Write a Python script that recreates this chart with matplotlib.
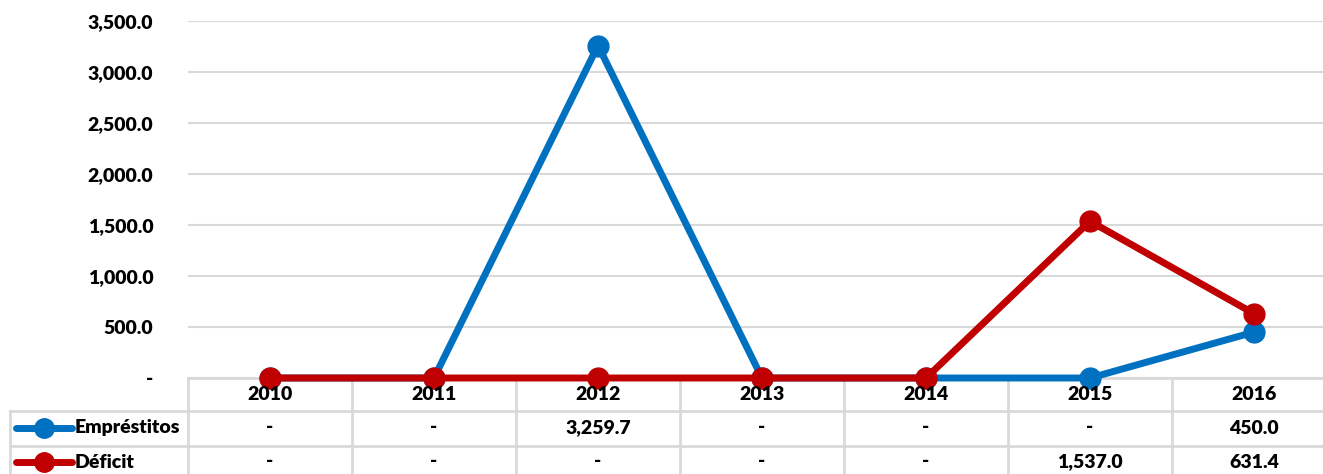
import matplotlib.pyplot as plt
from matplotlib.lines import Line2D
from matplotlib.transforms import blended_transform_factory

years = ["2010", "2011", "2012", "2013", "2014", "2015", "2016"]
emprestitos = [0, 0, 3259.7, 0, 0, 0, 450.0]
deficit = [0, 0, 0, 0, 0, 1537.0, 631.4]
series_names = ["Empréstitos", "Déficit"]
colors = ["#0070C0", "#C00000"]
yticks = [0, 500, 1000, 1500, 2000, 2500, 3000, 3500]

plt.rcParams["font.family"] = ["Lato", "DejaVu Sans"]
WT = "heavy"
FS = 14

W, H = 1323, 474
fig = plt.figure(figsize=(W / 100, H / 100), dpi=100)
# plot area runs a bit past the right edge, like the original crop
ax = fig.add_axes([188 / W, (H - 378) / H, (1336 - 188) / W, (378 - 21) / H])
ax.set_zorder(3)
ax.patch.set_alpha(0)

grid_c = "#D9D9D9"
x = list(range(len(years)))

for vals, c, z in [(emprestitos, colors[0], 3), (deficit, colors[1], 4)]:
    ax.plot(x, vals, color=c, lw=5, marker="o", ms=15, zorder=z,
            clip_on=False, solid_joinstyle="round")

ax.set_xlim(-0.5, len(years) - 0.5)
ax.set_ylim(0, 3500)
ax.set_yticks(yticks)
ax.set_yticklabels(["-" if v == 0 else f"{v:,.1f}" for v in yticks],
                   fontsize=FS, fontweight=WT)
ax.tick_params(axis="y", length=0, pad=25)
ax.set_xticks([])
ax.grid(axis="y", color=grid_c, lw=1.5, zorder=0)
for s in ax.spines.values():
    s.set_visible(False)

# data table under the plot
tr = blended_transform_factory(ax.transData, fig.transFigure)
ftr = fig.transFigure


def fy(py):
    return 1 - py / H


row_lines = [378, 411, 446]
row_mid = [395, 428, 462]

# horizontal lines
fig.add_artist(Line2D([188 / W, 1], [fy(378)] * 2, transform=ftr, color=grid_c, lw=2))
for py in row_lines[1:]:
    fig.add_artist(Line2D([10 / W, 1], [fy(py)] * 2, transform=ftr, color=grid_c, lw=2))
# vertical lines
for i in range(len(years) + 1):
    fig.add_artist(Line2D([i - 0.5] * 2, [fy(378), 0], transform=tr, color=grid_c, lw=2))
fig.add_artist(Line2D([10 / W] * 2, [fy(411), 0], transform=ftr, color=grid_c, lw=2))

for i, yr in enumerate(years):
    fig.text(i, fy(row_mid[0]), yr, transform=tr, ha="center", va="center",
             fontsize=FS, fontweight=WT)

for r, (name, vals, c) in enumerate(zip(series_names, [emprestitos, deficit], colors)):
    ym = fy(row_mid[r + 1])
    fig.add_artist(Line2D([16 / W, 72 / W], [ym] * 2, transform=ftr, color=c,
                          lw=5, solid_capstyle="round"))
    fig.add_artist(Line2D([44 / W], [ym], transform=ftr, color=c, marker="o", ms=14))
    fig.text(75 / W, ym, name, ha="left", va="center", fontsize=FS, fontweight=WT)
    for i, v in enumerate(vals):
        fig.text(i, ym, "-" if v == 0 else f"{v:,.1f}", transform=tr, ha="center",
                 va="center", fontsize=FS, fontweight=WT)

fig.savefig("out.png", dpi=100)
